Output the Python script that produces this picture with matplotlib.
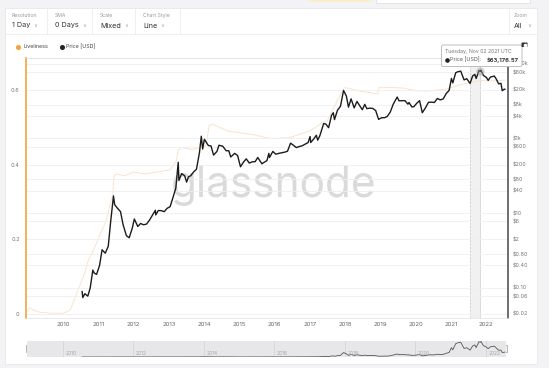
import numpy as np
import pandas as pd
import matplotlib
matplotlib.use("Agg")
import matplotlib.pyplot as plt
import matplotlib.dates as mdates
from matplotlib.patches import Rectangle, FancyBboxPatch
from matplotlib.ticker import FixedLocator, NullLocator

plt.rcParams['font.family'] = ['Inter', 'DejaVu Sans']

# ---- data ----
live_dates = ['2009-01-03', '2009-01-20', '2009-03-01', '2009-05-01', '2009-09-01',
              '2010-01-01', '2010-03-15', '2010-04-15', '2010-06-05', '2010-08-15', '2010-09-20', '2010-11-01', '2010-12-15',
              '2011-01-15', '2011-03-25', '2011-05-01', '2011-06-01', '2011-06-12', '2011-07-01', '2011-10-01',
              '2012-01-01', '2012-05-01', '2012-09-01',
              '2013-01-15', '2013-03-20', '2013-04-10', '2013-05-15', '2013-09-01',
              '2014-01-20', '2014-02-25', '2014-04-01', '2014-09-01',
              '2015-06-01', '2015-11-15', '2016-06-01',
              '2017-01-01', '2017-05-01', '2017-07-01', '2017-10-01', '2017-12-10', '2017-12-25',
              '2018-03-01', '2018-06-01', '2018-12-05', '2018-12-20',
              '2019-06-01', '2019-08-25', '2020-01-01', '2020-05-01', '2020-11-15',
              '2021-03-15', '2021-07-15', '2021-11-01', '2022-03-01', '2022-07-15']
live_vals = [0.008, 0.017, 0.011, 0.005, 0.002,
             0.002, 0.010, 0.030, 0.064, 0.11, 0.144, 0.165, 0.19,
             0.21, 0.25, 0.29, 0.32, 0.366, 0.375, 0.37,
             0.38, 0.375, 0.38,
             0.386, 0.41, 0.44, 0.446, 0.44,
             0.45, 0.505, 0.508, 0.49,
             0.48, 0.47, 0.472,
             0.49, 0.51, 0.517, 0.565, 0.6, 0.606,
             0.603, 0.597, 0.589, 0.606,
             0.606, 0.605, 0.598, 0.597, 0.602,
             0.612, 0.62, 0.625, 0.624, 0.626]

price_dates = ['2010-07-18', '2010-07-25', '2010-08-15', '2010-09-15', '2010-10-10', '2010-11-06', '2010-11-20', '2010-12-15',
               '2011-01-15', '2011-02-10', '2011-03-15', '2011-04-15', '2011-05-10', '2011-06-08', '2011-06-20', '2011-07-15',
               '2011-08-20', '2011-09-15', '2011-10-20', '2011-11-18', '2011-12-20',
               '2012-01-10', '2012-02-15', '2012-03-15', '2012-04-15', '2012-05-15', '2012-06-15', '2012-07-15',
               '2012-08-15', '2012-08-19', '2012-09-15', '2012-10-15', '2012-11-15', '2012-12-15',
               '2013-01-15', '2013-02-15', '2013-03-15', '2013-04-09', '2013-04-16', '2013-05-15', '2013-06-15',
               '2013-07-05', '2013-07-25', '2013-08-15', '2013-09-15', '2013-10-15', '2013-11-15', '2013-12-04', '2013-12-18',
               '2014-01-05', '2014-02-15', '2014-03-15', '2014-04-10', '2014-05-15', '2014-06-05', '2014-07-15',
               '2014-08-18', '2014-09-15', '2014-10-05', '2014-11-15', '2014-12-15',
               '2015-01-14', '2015-02-15', '2015-03-15', '2015-04-15', '2015-05-15', '2015-06-15', '2015-07-12',
               '2015-08-24', '2015-09-15', '2015-10-15', '2015-11-04', '2015-11-11', '2015-12-15',
               '2016-01-15', '2016-02-15', '2016-03-15', '2016-04-15', '2016-05-15', '2016-06-16', '2016-07-15',
               '2016-08-15', '2016-09-15', '2016-10-15', '2016-11-15', '2016-12-15',
               '2017-01-04', '2017-01-11', '2017-02-15', '2017-03-10', '2017-03-24', '2017-04-15', '2017-05-25',
               '2017-06-15', '2017-07-15', '2017-08-15', '2017-09-02', '2017-09-14', '2017-10-15', '2017-11-15', '2017-12-17',
               '2018-01-15', '2018-02-06', '2018-03-05', '2018-04-06', '2018-05-05', '2018-06-29', '2018-07-25',
               '2018-08-15', '2018-09-15', '2018-10-15', '2018-11-15', '2018-12-15',
               '2019-01-15', '2019-02-15', '2019-03-15', '2019-04-15', '2019-05-15', '2019-06-26', '2019-07-15',
               '2019-08-15', '2019-09-15', '2019-10-15', '2019-10-26', '2019-11-25', '2019-12-15',
               '2020-01-15', '2020-02-13', '2020-03-12', '2020-04-15', '2020-05-15', '2020-06-15', '2020-07-15',
               '2020-08-15', '2020-09-15', '2020-10-15', '2020-11-15', '2020-12-15',
               '2021-01-08', '2021-01-22', '2021-02-21', '2021-03-13', '2021-04-14', '2021-05-19', '2021-06-15',
               '2021-07-20', '2021-08-15', '2021-09-07', '2021-09-21', '2021-10-20', '2021-11-02', '2021-11-09', '2021-12-05',
               '2022-01-05', '2022-01-24', '2022-02-15', '2022-03-28', '2022-04-15', '2022-05-12', '2022-06-05',
               '2022-06-18', '2022-07-10', '2022-07-15']
price_vals = [0.08, 0.055, 0.07, 0.06, 0.10, 0.30, 0.25, 0.23,
              0.40, 1.05, 0.85, 1.3, 6, 29, 17, 14,
              11, 5, 2.5, 2.2, 4,
              7, 4.4, 5.3, 4.9, 5.1, 6.5, 8.8,
              12, 9, 11.8, 11.7, 11, 13.5,
              15, 27, 47, 230, 75, 115, 100,
              68, 95, 100, 127, 150, 420, 1150, 520,
              950, 650, 630, 360, 450, 660, 620,
              470, 470, 320, 400, 350,
              175, 235, 285, 220, 237, 240, 310,
              210, 230, 255, 400, 310, 450,
              380, 400, 415, 430, 455, 750, 660,
              570, 610, 640, 710, 780,
              1130, 780, 1000, 1220, 900, 1180, 2500,
              2450, 1950, 4200, 4900, 3200, 5700, 7300, 19300,
              13700, 6900, 11500, 6600, 9800, 5900, 8200,
              6300, 6500, 6400, 5600, 3250,
              3600, 3600, 3900, 5100, 8200, 12900, 10200,
              10300, 10300, 8300, 9200, 7000, 7100,
              8800, 10300, 4900, 6700, 9300, 9400, 9200,
              11800, 10800, 11500, 16000, 19400,
              40500, 30800, 57500, 61000, 63500, 37000, 40000,
              29800, 47000, 52000, 40500, 66000, 63176.57, 67500, 49000,
              43000, 36000, 44000, 47000, 40000, 29000, 30000,
              19000, 21000, 20800]

left_ticks = [0, 0.2, 0.4, 0.6]
left_labels = ['0', '0.2', '0.4', '0.6']
price_ticks = [0.02, 0.06, 0.10, 0.40, 0.80, 2, 6, 10, 40, 80, 200, 600, 1000,
               4000, 8000, 20000, 60000, 100000]
price_labels = ['$0.02', '$0.06', '$0.10', '$0.40', '$0.80', '$2', '$6', '$10', '$40',
                '$80', '$200', '$600', '$1k', '$4k', '$8k', '$20k', '$60k', '$100k']
years = list(range(2010, 2023))
nav_years = list(range(2010, 2023, 2))

hover_date = '2021-11-02'
hover_price = 63176.57
band_start = '2021-07-18'

controls = [('Resolution', '1 Day'), ('SMA', '0 Days'), ('Scale', 'Mixed'), ('Chart Style', 'Line')]
control_x = [12, 55, 100, 143]

# ---- layout (pixel based) ----
W, H = 549, 368


def box(x0, y0, x1, y1):
    return [x0 / W, 1 - y1 / H, (x1 - x0) / W, (y1 - y0) / H]


fig = plt.figure(figsize=(W / 100, H / 100), dpi=100)
fig.patch.set_facecolor('#f3f3f5')

bg = fig.add_axes([0, 0, 1, 1])
bg.set_xlim(0, W)
bg.set_ylim(H, 0)
bg.axis('off')
bg.set_zorder(0)

# card + top strip
bg.add_patch(Rectangle((4.5, 7.5), 532.5, 356, fc='white', ec='#e8e8ea', lw=0.6))
bg.add_patch(Rectangle((309, -1), 62, 3, fc='#fbeecb', ec='none'))
bg.add_patch(Rectangle((376, -1), 154, 4, fc='white', ec='#dddddd', lw=0.5))
bg.plot([4.5, 537], [34, 34], color='#ececee', lw=0.6)
for sx in [47, 91.5, 135, 180, 508.5]:
    bg.plot([sx, sx], [7.5, 34], color='#ececee', lw=0.6)
for (lab, val), cx in zip(controls, control_x):
    bg.text(cx, 15.5, lab, fontsize=3.7, color='#9a9a9a', va='center', ha='left')
    bg.text(cx, 25.5, val, fontsize=5.2, color='#333333', va='center', ha='left')
bg.text(514, 15.5, 'Zoom', fontsize=3.7, color='#9a9a9a', va='center', ha='left')
bg.text(514, 25.5, 'All', fontsize=5.2, color='#333333', va='center', ha='left')
chev_x = [33, 82, 124, 160, 527]
for cx in chev_x:
    bg.text(cx, 25.5, '\u2228', fontsize=3.8, color='#aaaaaa', va='center', ha='left')

# legend
bg.plot(18.2, 46.5, 'o', ms=2.6, color='#f2a33a')
bg.text(23.5, 46.5, 'Liveliness', fontsize=3.8, color='#444444', va='center')
bg.plot(61.5, 46.5, 'o', ms=2.6, color='#222222')
bg.text(65.5, 46.5, 'Price [USD]', fontsize=3.8, color='#444444', va='center')

# ---- main chart ----
ld = pd.to_datetime(live_dates)
pdts = pd.to_datetime(price_dates)

d2010 = mdates.date2num(pd.Timestamp('2010-01-01'))
d2022 = mdates.date2num(pd.Timestamp('2022-01-01'))
ppd = (486 - 63) / (d2022 - d2010)

ax = fig.add_axes(box(26, 57.5, 508, 318))
ax.set_zorder(1)
ax.patch.set_alpha(0)
ax2 = ax.twinx()

lo = -(318 - 314) / 373.5
hi = (314 - 57.5) / 373.5
ax.set_ylim(lo, hi)
ax2.set_yscale('log')
ax2.set_ylim(0.02 * 10 ** (10 * lo), 0.02 * 10 ** (10 * hi))
ax.set_xlim(d2010 - (63 - 26) / ppd, d2022 + (508 - 486) / ppd)

# hover band
hd = mdates.date2num(pd.Timestamp(hover_date))
bd = mdates.date2num(pd.Timestamp(band_start))
ax.axvspan(bd, hd, color='#f1f1f2', zorder=0, lw=0)
ax.axvline(bd, color='#c8c8c8', lw=0.5, ls=(0, (3, 2)), zorder=0.5)
ax.axvline(hd, color='#d4d4d4', lw=0.6, zorder=0.5)

ax.text((274 - 26) / 482, (318 - 197) / 260.5, 'glassnode', transform=ax.transAxes,
        fontsize=30.5, color='#dadada', ha='center', va='baseline', zorder=0.2)

ax.plot(ld, live_vals, color='#f7e2cb', lw=0.65, zorder=2)
ax2.plot(pdts, price_vals, color='#1c1c1c', lw=1.0, zorder=3)
ax2.plot(pd.Timestamp(hover_date), hover_price, 'o', ms=6, color='#9a9a9a', alpha=0.45,
         mec='none', zorder=4)

ax2.yaxis.set_major_locator(FixedLocator(price_ticks))
ax2.yaxis.set_minor_locator(NullLocator())
ax2.set_yticklabels(price_labels)
ax2.grid(axis='y', color='#efeff1', lw=0.6)
ax2.set_axisbelow(True)
ax.yaxis.set_major_locator(FixedLocator(left_ticks))
ax.set_yticklabels(left_labels)
ax.set_xticks([mdates.date2num(pd.Timestamp(f'{y}-01-01')) for y in years])
ax.set_xticklabels([str(y) for y in years])

ax.tick_params(axis='x', length=0, pad=3, labelsize=4.3, labelcolor='#666666')
ax.tick_params(axis='y', length=0, pad=4.5, labelsize=4.0, labelcolor='#777777')
ax2.tick_params(axis='y', length=0, pad=3.6, labelsize=3.9, labelcolor='#777777')

for a in (ax, ax2):
    a.spines['top'].set_color('#e4e4e6')
    a.spines['top'].set_linewidth(0.6)
    a.spines['bottom'].set_color('#e8e8ea')
    a.spines['bottom'].set_linewidth(0.5)
ax2.spines['left'].set_color('#f0a43c')
ax2.spines['left'].set_linewidth(1.2)
ax2.spines['right'].set_color('#555555')
ax2.spines['right'].set_linewidth(1.2)
ax.spines['left'].set_visible(False)
ax.spines['right'].set_visible(False)

# ---- navigator ----
nav = fig.add_axes(box(27, 341, 506, 357))
nav.set_zorder(1)
nav.set_facecolor('#e7e7ea')
nav.set_xlim(d2010 - (63 - 27) / ppd, d2022 + (506 - 486) / ppd)
nav.set_ylim(0, 69000)
for y in nav_years:
    xd = mdates.date2num(pd.Timestamp(f'{y}-01-01'))
    nav.axvline(xd, color='#d2d2d6', lw=0.5, zorder=0)
    nav.text(xd + 2.2 / ppd, 0.22, str(y), transform=nav.get_xaxis_transform(),
             fontsize=3.5, color='#a5a5a8', va='center', ha='left')
nav.plot(pdts, price_vals, color='#555555', lw=0.6)
nav.set_xticks([])
nav.set_yticks([])
for s in nav.spines.values():
    s.set_visible(False)

# navigator handles
bg.add_patch(Rectangle((25.5, 345), 4, 7, fc='#f4f4f4', ec='#9a9a9a', lw=0.5, zorder=3))
bg.add_patch(Rectangle((503, 345), 4, 7, fc='#f4f4f4', ec='#9a9a9a', lw=0.5, zorder=3))

# ---- tooltip overlay ----
top = fig.add_axes([0, 0, 1, 1])
top.set_xlim(0, W)
top.set_ylim(H, 0)
top.axis('off')
top.set_zorder(5)
top.add_patch(FancyBboxPatch((441.5, 45), 80.5, 21.5, boxstyle='round,pad=0,rounding_size=2',
                             fc='white', ec='#b5b5b5', lw=0.6))
top.text(445, 52, 'Tuesday, Nov 02 2021 UTC', fontsize=3.7, color='#777777', va='center')
top.plot(447, 60, 'o', ms=2.3, color='#222222')
top.text(449.5, 60, 'Price [USD]:', fontsize=3.9, color='#555555', va='center')
top.text(519, 60, '$63,176.57', fontsize=4.2, color='#333333', va='center', ha='right',
         fontweight='bold')
# camera icon
top.add_patch(FancyBboxPatch((521.5, 42.5), 6, 4.5, boxstyle='round,pad=0,rounding_size=0.8',
                             fc='#333333', ec='none'))
top.plot(524.5, 44.8, 'o', ms=1.6, color='white')

fig.savefig('out.png', dpi=100, facecolor=fig.get_facecolor())
